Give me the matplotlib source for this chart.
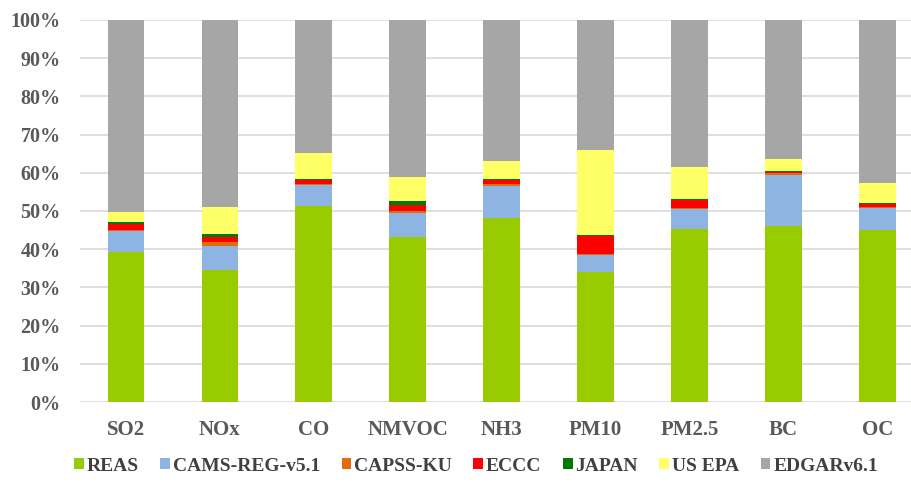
#%% importing modules
import numpy as np
import matplotlib.pyplot as plt
from matplotlib.ticker import PercentFormatter

#%% data (share of each inventory, %)
species = ['SO2', 'NOx', 'CO', 'NMVOC', 'NH3', 'PM10', 'PM2.5', 'BC', 'OC']
reas   = [39.3, 34.5, 51.4, 43.1, 48.1, 34.1, 45.2, 46.2, 45.0]
cams   = [5.5, 6.4, 5.3, 6.5, 8.4, 4.5, 5.4, 13.2, 5.8]
capss  = [0.3, 0.9, 0.3, 0.4, 0.5, 0.2, 0.3, 0.6, 0.3]
eccc   = [1.6, 1.3, 1.0, 1.7, 1.1, 4.7, 2.0, 0.3, 0.8]
japan  = [0.4, 0.8, 0.3, 0.9, 0.4, 0.2, 0.2, 0.2, 0.2]
usepa  = [2.6, 7.2, 6.8, 6.3, 4.5, 22.3, 8.5, 3.0, 5.2]
edgar  = [50.3, 48.9, 34.9, 41.1, 37.0, 34.0, 38.4, 36.5, 42.7]

names = ['REAS', 'CAMS-REG-v5.1', 'CAPSS-KU', 'ECCC', 'JAPAN', 'US EPA', 'EDGARv6.1']
series = [reas, cams, capss, eccc, japan, usepa, edgar]
colors = ['#99CC00', '#8DB4E2', '#E26B0A', '#FF0000', '#007A00', '#FFFF66', '#A6A6A6']

#%% plot
plt.rcParams['font.family'] = ['Liberation Serif', 'DejaVu Serif']
fig = plt.figure(figsize=(9.12, 4.83), dpi=100)
ax = fig.add_axes([0.0877, 0.1677, 0.9123, 0.7909])

x = np.arange(len(species))
bottom = np.zeros(len(species))
for vals, name, col in zip(series, names, colors):
    ax.bar(x, vals, 0.39, bottom=bottom, color=col, label=name, zorder=3)
    bottom += np.array(vals)

ax.set_ylim(0, 100)
ax.set_xlim(-0.49, 8.37)
ax.set_yticks(np.arange(0, 101, 10))
ax.yaxis.set_major_formatter(PercentFormatter(decimals=0))
ax.set_xticks(x)
ax.set_xticklabels(species)
ax.grid(axis='y', color='#D9D9D9', linewidth=1.2, zorder=0)
for s in ['top', 'right', 'left', 'bottom']:
    ax.spines[s].set_visible(False)
ax.tick_params(length=0)
ax.tick_params(axis='y', pad=14, labelsize=14.5, labelcolor='#595959')
ax.tick_params(axis='x', pad=13, labelsize=15, labelcolor='#595959')
for lab in ax.get_xticklabels() + ax.get_yticklabels():
    lab.set_fontweight('bold')

leg = fig.legend(loc='center', bbox_to_anchor=(0.522, 0.035), ncol=7, frameon=False,
                 handlelength=0.5, handleheight=0.5, handletextpad=0.15, columnspacing=1.1,
                 prop={'weight': 'bold', 'size': 14})
for t in leg.get_texts():
    t.set_color('#404040')

fig.savefig('out.png', dpi=100)
